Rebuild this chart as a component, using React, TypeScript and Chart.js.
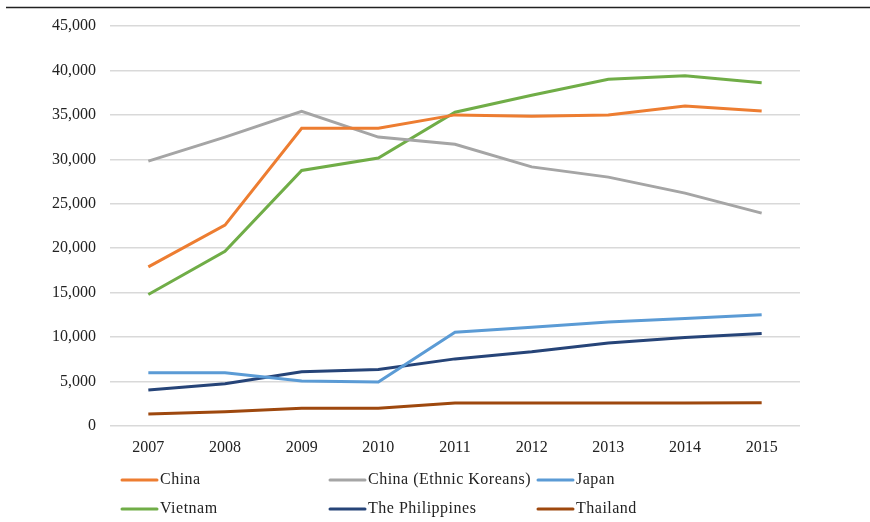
import React, { useEffect, useRef } from "react";
import { Chart, registerables } from "chart.js";

Chart.register(...registerables);

const years = ["2007", "2008", "2009", "2010", "2011", "2012", "2013", "2014", "2015"];
const china = [17900, 22600, 33500, 33500, 35000, 34850, 35000, 36000, 35450];
const chinaKoreans = [29800, 32500, 35400, 32500, 31700, 29150, 28000, 26200, 23950];
const japan = [6000, 6000, 5050, 4950, 10550, 11100, 11700, 12100, 12520];
const vietnam = [14800, 19650, 28750, 30150, 35300, 37200, 39000, 39400, 38620];
const philippines = [4050, 4750, 6100, 6350, 7550, 8350, 9350, 9950, 10420];
const thailand = [1350, 1600, 2000, 2000, 2600, 2600, 2600, 2600, 2620];

const FONT = "'Liberation Serif', 'DejaVu Serif', serif";

const legendPlugin = {
  id: "gridLegend",
  afterDraw(chart: any) {
    const ctx = chart.ctx;
    ctx.save();
    // top rule
    ctx.strokeStyle = "#222";
    ctx.lineWidth = 1.5;
    ctx.beginPath();
    ctx.moveTo(6, 7.5);
    ctx.lineTo(870, 7.5);
    ctx.stroke();
    // legend grid
    const cols = [122, 330, 538];
    const rows = [480, 509];
    ctx.font = "16px " + FONT;
    ctx.textBaseline = "middle";
    try { (ctx as any).letterSpacing = "0.5px"; } catch (e) {}
    chart.data.datasets.forEach((ds: any, i: number) => {
      const x = cols[i % 3];
      const y = rows[Math.floor(i / 3)];
      ctx.strokeStyle = ds.borderColor;
      ctx.lineWidth = 3;
      ctx.lineCap = "round";
      ctx.beginPath();
      ctx.moveTo(x, y);
      ctx.lineTo(x + 35, y);
      ctx.stroke();
      ctx.fillStyle = "#222";
      ctx.fillText(ds.label, x + 38, y);
    });
    ctx.restore();
  },
};

export default function App() {
  const ref = useRef<HTMLCanvasElement>(null);
  useEffect(() => {
    document.body.style.margin = "0";
    const mk = (label: string, data: number[], color: string) => ({
      label,
      data,
      borderColor: color,
      backgroundColor: color,
      borderWidth: 3,
      pointRadius: 0,
      tension: 0,
      fill: false,
    });
    const chart = new Chart(ref.current!, {
      type: "line",
      data: {
        labels: years,
        datasets: [
          mk("China", china, "#ED7D31"),
          mk("China (Ethnic Koreans)", chinaKoreans, "#A5A5A5"),
          mk("Japan", japan, "#5B9BD5"),
          mk("Vietnam", vietnam, "#70AD47"),
          mk("The Philippines", philippines, "#264478"),
          mk("Thailand", thailand, "#9E480E"),
        ],
      },
      options: {
        responsive: false,
        animation: false,
        layout: { padding: { top: 26, right: 70, left: 0, bottom: 0 } },
        plugins: { legend: { display: false }, tooltip: { enabled: false } },
        scales: {
          x: {
            offset: true,
            grid: { display: false, drawTicks: false },
            border: { display: false },
            ticks: { color: "#222", font: { family: FONT, size: 16 }, padding: 12, maxRotation: 0 },
            afterFit: (s: any) => { s.height = 96; },
          },
          y: {
            min: 0,
            max: 45000,
            grid: { color: "#D9D9D9", lineWidth: 1.5, drawTicks: false },
            border: { display: false },
            ticks: {
              stepSize: 5000,
              color: "#222",
              font: { family: FONT, size: 16 },
              padding: 14,
              callback: (v: any) => Number(v).toLocaleString("en-US"),
            },
            afterFit: (s: any) => { s.width = 110; },
          },
        },
      },
      plugins: [legendPlugin],
    });
    return () => chart.destroy();
  }, []);
  return <canvas ref={ref} width={870} height={522} style={{ display: "block" }} />;
}
